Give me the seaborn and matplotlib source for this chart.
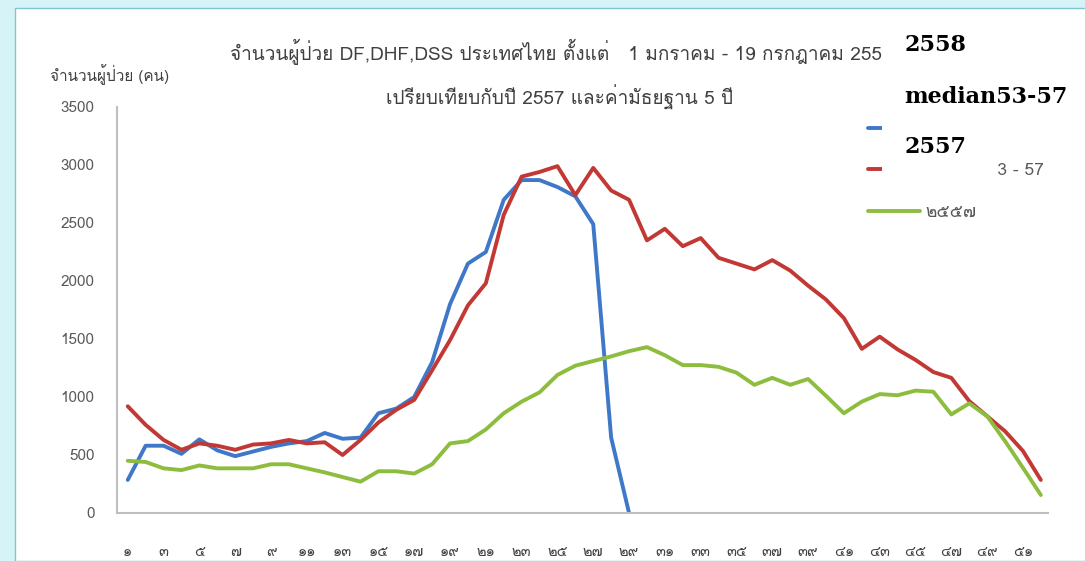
import numpy as np
import pandas as pd
import seaborn as sns
from matplotlib import pyplot as plt
from matplotlib import font_manager
from matplotlib.patches import Rectangle
from fontTools.ttLib import TTFont

# weekly cases, weeks 1-52
weeks = list(range(1, 53))
cases_2558 = [285, 580, 580, 510, 635, 540, 490, 530, 570, 600,
              620, 690, 640, 650, 860, 900, 1000, 1300, 1800, 2150,
              2250, 2700, 2870, 2870, 2810, 2730, 2490, 650, 0]
cases_median = [920, 760, 630, 545, 600, 580, 545, 590, 600, 630,
                600, 610, 500, 630, 780, 890, 975, 1230, 1490, 1790,
                1980, 2570, 2900, 2940, 2990, 2740, 2975, 2780, 2700, 2350,
                2450, 2300, 2370, 2200, 2150, 2100, 2180, 2090, 1960, 1840,
                1680, 1415, 1520, 1410, 1320, 1215, 1165, 965, 835, 705,
                535, 285]
cases_2557 = [450, 440, 385, 370, 410, 385, 385, 385, 420, 420,
              385, 350, 310, 270, 360, 360, 340, 420, 600, 620,
              720, 860, 960, 1040, 1190, 1270, 1310, 1350, 1395, 1430,
              1360, 1275, 1275, 1260, 1210, 1105, 1165, 1105, 1155, 1010,
              860, 960, 1025, 1015, 1055, 1045, 850, 945, 835, 620,
              390, 155]

series_names = ["2558", "median 53 - 57", "๒๕๕๗"]
tick_weeks = list(range(1, 53, 2))
tick_labels = ["๑", "๓", "๕", "๗", "๙", "๑๑", "๑๓", "๑๕", "๑๗", "๑๙",
               "๒๑", "๒๓", "๒๕", "๒๗", "๒๙", "๓๑", "๓๓", "๓๕", "๓๗", "๓๙",
               "๔๑", "๔๓", "๔๕", "๔๗", "๔๙", "๕๑"]
y_ticks = [0, 500, 1000, 1500, 2000, 2500, 3000, 3500]

title_1 = "จำนวนผู้ป่วย DF,DHF,DSS ประเทศไทย ตั้งแต่   1 มกราคม - 19 กรกฎาคม 2558"
title_2 = "เปรียบเทียบกับปี 2557 และค่ามัธยฐาน 5 ปี"
y_label = "จำนวนผู้ป่วย (คน)"
overlay_labels = ["2558", "median53-57", "2557"]


def find_thai_font():
    for f in font_manager.fontManager.ttflist:
        try:
            cmap = TTFont(f.fname, fontNumber=0, lazy=True).getBestCmap()
        except Exception:
            continue
        if cmap and 0x0E08 in cmap and 0x0E51 in cmap:
            return f.name
    return "DejaVu Sans"


blue_pad = [np.nan] * (len(weeks) - len(cases_2558))
df = pd.DataFrame({
    "week": weeks * 3,
    "cases": cases_2558 + blue_pad + cases_median + cases_2557,
    "series": [series_names[0]] * 52 + [series_names[1]] * 52 + [series_names[2]] * 52,
})

sns.set_style("white")
thai_font = find_thai_font()
plt.rcParams["font.family"] = [thai_font, "DejaVu Sans"]

W, H = 1085, 561
fig = plt.figure(figsize=(W / 100, H / 100), dpi=100)
fig.patch.set_facecolor("#d6f3f8")
# white page inside the cyan frame
fig.patches.append(Rectangle((15 / W, 0), 1, 1 - 8 / H, transform=fig.transFigure,
                             facecolor="white", edgecolor="#7fc6cf", lw=1, zorder=-1))

ax = fig.add_axes([117 / W, 1 - 513 / H, (1048 - 117) / W, (513 - 107) / H])
palette = {series_names[0]: "#3f78c8", series_names[1]: "#c23834", series_names[2]: "#8dbd3e"}
sns.lineplot(data=df, x="week", y="cases", hue="series", hue_order=series_names,
             palette=palette, linewidth=2.8, ax=ax)

ax.set_xlim(0.4, 52.4)
ax.set_ylim(0, 3500)
ax.set_xticks(tick_weeks)
ax.set_xticklabels(tick_labels)
ax.set_yticks(y_ticks)
ax.set_xlabel("")
ax.set_ylabel("")
ax.tick_params(axis="x", length=0, pad=23, labelsize=10.5, labelcolor="#404040")
ax.tick_params(axis="y", length=0, pad=16, labelsize=11, labelcolor="#595959")
for side in ["top", "right"]:
    ax.spines[side].set_visible(False)
for side in ["left", "bottom"]:
    ax.spines[side].set_color("#bfbfbf")
    ax.spines[side].set_linewidth(1.5)

ax.legend(loc="upper left", bbox_to_anchor=(868 / W, 1 - 122 / H), bbox_transform=fig.transFigure,
          frameon=False, fontsize=12.5, handlelength=3.0, handletextpad=0.3,
          labelspacing=1.45, borderpad=0, borderaxespad=0, labelcolor="#595959")

# titles sit under the pasted white boxes (zorder 1 < 2)
fig.text(561 / W, 1 - 52 / H, title_1, ha="center", va="center", fontsize=13.7,
         color="#404040", zorder=1)
fig.text(560 / W, 1 - 97 / H, title_2, ha="center", va="center", fontsize=13.7,
         color="#404040", zorder=1)
fig.text(50 / W, 1 - 75 / H, y_label, ha="left", va="center", fontsize=11, color="#404040")

# white boxes pasted over the legend text
fig.patches.append(Rectangle((882 / W, 1 - 137 / H), (W - 882) / W, (137 - 12) / H,
                             transform=fig.transFigure, facecolor="white", edgecolor="none", zorder=2))
fig.patches.append(Rectangle((882 / W, 1 - 181 / H), (998 - 882) / W, (181 - 130) / H,
                             transform=fig.transFigure, facecolor="white", edgecolor="none", zorder=2))

for label, y in zip(overlay_labels, [45, 97, 147]):
    fig.text(904 / W, 1 - y / H, label, ha="left", va="center", fontsize=16,
             fontweight="bold", family="DejaVu Serif", color="black", zorder=5)

fig.savefig("out.png", dpi=100)
